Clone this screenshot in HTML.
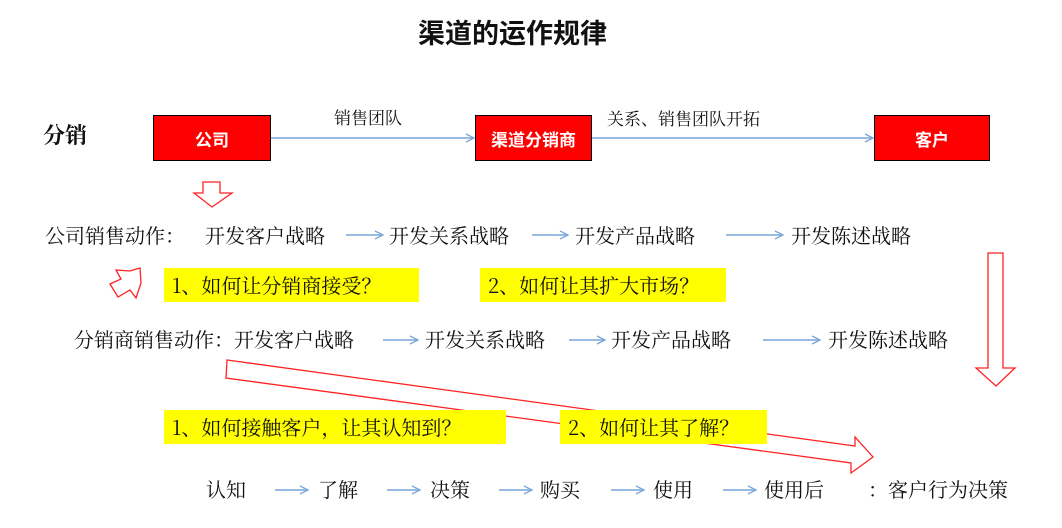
<!DOCTYPE html>
<html><head><meta charset="utf-8"><style>
body{margin:0;width:1062px;height:528px;background:#fff;position:relative;overflow:hidden;font-family:"Noto Serif CJK SC","Noto Sans CJK SC",serif;color:#111}
.t{position:absolute;white-space:nowrap;font-size:20px;line-height:22px}
.box{position:absolute;background:#f00;border:1px solid #000;color:#fff;font-family:"Liberation Sans","Noto Sans CJK SC",sans-serif;font-weight:bold;font-size:17px;display:flex;align-items:center;justify-content:center;box-sizing:border-box}
.y{position:absolute;background:#ff0;font-size:20px;line-height:34px;padding-left:8px;box-sizing:border-box;white-space:nowrap}
svg{position:absolute;left:0;top:0}
</style></head><body>
<svg width="1062" height="528">
<g fill="none" stroke="#f22" stroke-width="1.3">
<path d="M227,360 L855,446 L855,437 L873,457 L851,473 L851,463 L226,378 Z"/>
</g>
</svg>
<div class="t" style="left:418px;top:16px;font-size:27px;line-height:32px;font-weight:bold;font-family:'Noto Sans CJK SC',sans-serif">渠道的运作规律</div>
<div class="t" style="left:43px;top:124px;font-size:22px;font-weight:bold">分销</div>
<div class="box" style="left:153px;top:115px;width:118px;height:46px">公司</div>
<div class="box" style="left:475px;top:115px;width:117px;height:46px">渠道分销商</div>
<div class="box" style="left:874px;top:115px;width:116px;height:46px">客户</div>
<div class="t" style="left:334px;top:106px;font-size:17px">销售团队</div>
<div class="t" style="left:607px;top:107px;font-size:17px">关系、销售团队开拓</div>
<div class="y" style="left:164px;top:268px;width:255px">1、如何让分销商接受？</div>
<div class="y" style="left:480px;top:268px;width:246px">2、如何让其扩大市场？</div>
<div class="y" style="left:164px;top:410px;width:342px">1、如何接触客户，让其认知到？</div>
<div class="y" style="left:560px;top:410px;width:207px">2、如何让其了解？</div>
<svg width="1062" height="528">
<defs><marker id="a" markerWidth="10" markerHeight="10" refX="9" refY="5" orient="auto" markerUnits="userSpaceOnUse"><path d="M1,1 L9,5 L1,9" fill="none" stroke="#7aa6d8" stroke-width="1.3"/></marker></defs>
<g stroke="#7aa6d8" stroke-width="1.5" marker-end="url(#a)">
<line x1="271" y1="138" x2="474" y2="138"/>
<line x1="592" y1="138" x2="873" y2="138"/>
<line x1="346" y1="235" x2="383" y2="235"/>
<line x1="532" y1="235" x2="568" y2="235"/>
<line x1="726" y1="235" x2="783" y2="235"/>
<line x1="383" y1="340" x2="418" y2="340"/>
<line x1="569" y1="340" x2="605" y2="340"/>
<line x1="763" y1="340" x2="820" y2="340"/>
<line x1="275" y1="490" x2="308" y2="490"/>
<line x1="387" y1="490" x2="420" y2="490"/>
<line x1="499" y1="490" x2="532" y2="490"/>
<line x1="611" y1="490" x2="644" y2="490"/>
<line x1="723" y1="490" x2="756" y2="490"/>
</g>
<g fill="none" stroke="#f22" stroke-width="1.3">
<path d="M203,182 H220 V193 H232 L212,207 L194,193 H203 Z"/>
<path d="M110,284 L121,279 L116,270 L130,271 L140,268 L141,283 L136,298 L130,290 L118,297 Z"/>
<path d="M988,253 H1003 V368 H1015 L996,386 L976,368 H988 Z"/>
</g>
</svg>
<div class="t" style="left:45px;top:224px">公司销售动作：</div>
<div class="t" style="left:205px;top:224px">开发客户战略</div>
<div class="t" style="left:389px;top:224px">开发关系战略</div>
<div class="t" style="left:575px;top:224px">开发产品战略</div>
<div class="t" style="left:791px;top:224px">开发陈述战略</div>
<div class="t" style="left:74px;top:328px">分销商销售动作：开发客户战略</div>
<div class="t" style="left:425px;top:328px">开发关系战略</div>
<div class="t" style="left:611px;top:328px">开发产品战略</div>
<div class="t" style="left:828px;top:328px">开发陈述战略</div>
<div class="t" style="left:206px;top:478px">认知</div>
<div class="t" style="left:318px;top:478px">了解</div>
<div class="t" style="left:430px;top:478px">决策</div>
<div class="t" style="left:540px;top:478px">购买</div>
<div class="t" style="left:653px;top:478px">使用</div>
<div class="t" style="left:764px;top:478px">使用后</div>
<div class="t" style="left:868px;top:478px">：客户行为决策</div>
</body></html>
